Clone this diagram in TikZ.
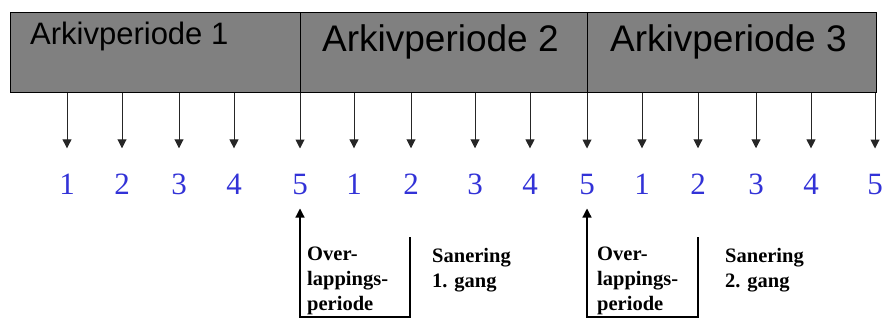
\documentclass[tikz,border=0pt]{standalone}
\usepackage{fontspec}
\setmainfont{Liberation Serif}
\newfontfamily\arial{Liberation Sans}
\usetikzlibrary{arrows.meta, calc}

\definecolor{bandgray}{RGB}{128,128,128}
\definecolor{numblue}{RGB}{50,50,215}

\begin{document}
\begin{tikzpicture}[x=1pt, y=1pt, >={Triangle[length=9pt,width=9pt]},
  period/.style={draw, line width=1.2pt, fill=bandgray, minimum height=80pt, inner sep=0pt, anchor=north west},
  title/.style={font=\arial\fontsize{#1}{#1}\selectfont, inner sep=0pt, anchor=base west},
  num/.style={text=numblue, font=\fontsize{31}{31}\selectfont, inner sep=0pt, anchor=base},
  down/.style={->, line width=1pt, black!85, shorten >=26pt},
  note/.style={font=\bfseries\fontsize{20.5}{25}\selectfont, align=left, inner sep=0pt, anchor=north west}]
\useasboundingbox (0,0) rectangle (882,332);
% archive periods
\node[period, minimum width=290pt] (p1) at (10,320) {};
\node[period, minimum width=287pt] (p2) at (300,320) {};
\node[period, minimum width=289pt] (p3) at (587,320) {};
\node[title=31] (t1) at (30,287) {Arkivperiode 1};
\node[title=37] (t2) at (322,280) {Arkivperiode 2};
\node[title=37] (t3) at (610,280) {Arkivperiode 3};
% steps
\foreach \x/\t [count=\i] in {67/1,122/2,179/3,234/4,300/5,354/1,411/2,475/3,530/4,587/5,642/1,698/2,756/3,811/4,875/5} {
  \node[num] (n\i) at (\x,137) {\t};
  \draw[down] (n\i |- p1.south) -- (n\i);
}
% overlap brackets
\coordinate (c0) at (0,15);
\coordinate (e1) at (410,95);
\coordinate (e2) at (698,95);
\draw[<-, line width=1.2pt, shorten <=13pt] (n5) -- (n5 |- c0) -| (e1);
\draw[<-, line width=1.2pt, shorten <=13pt] (n10) -- (n10 |- c0) -| (e2);
\node[note] (ov1) at (307,85) {Over-\\lappings-\\periode};
\node[note] (san1) at (432,84) {Sanering\\1. gang};
\node[note] (ov2) at (597,85) {Over-\\lappings-\\periode};
\node[note] (san2) at (725,84) {Sanering\\2. gang};
\end{tikzpicture}
\end{document}
